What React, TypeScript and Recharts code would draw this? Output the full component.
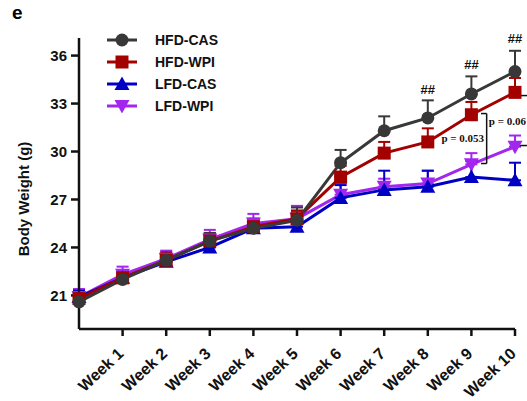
import React from 'react';
import {
  LineChart, Line, XAxis, YAxis, ErrorBar, Legend, ReferenceDot, ReferenceLine, Label,
} from 'recharts';

// ---- data ----
const weeks = [0, 1, 2, 3, 4, 5, 6, 7, 8, 9, 10];
const weekTicks = [1, 2, 3, 4, 5, 6, 7, 8, 9, 10];
const yTicks = [21, 24, 27, 30, 33, 36];

const hfdCas = [20.6, 22.0, 23.2, 24.4, 25.2, 25.7, 29.3, 31.3, 32.1, 33.6, 35.0];
const hfdCasErr = [0.3, 0.3, 0.4, 0.5, 0.5, 0.8, 0.8, 0.9, 1.1, 1.1, 1.3];
const hfdWpi = [20.8, 22.1, 23.2, 24.4, 25.3, 25.8, 28.4, 29.9, 30.6, 32.3, 33.7];
const hfdWpiErr = [0.3, 0.4, 0.5, 0.5, 0.5, 0.5, 0.7, 0.7, 0.85, 0.8, 0.9];
const lfdCas = [20.9, 22.1, 23.1, 24.0, 25.2, 25.3, 27.1, 27.6, 27.8, 28.4, 28.2];
const lfdCasErr = [0.4, 0.4, 0.5, 0.5, 0.5, 1.0, 0.8, 1.2, 1.0, 1.0, 1.1];
const lfdWpi = [20.9, 22.3, 23.3, 24.5, 25.5, 25.8, 27.3, 27.8, 28.0, 29.2, 30.3];
const lfdWpiErr = [0.5, 0.5, 0.5, 0.6, 0.6, 0.8, 0.7, 0.5, 0.8, 0.7, 0.7];

const sigMarks = [
  { week: 8, y: 33.9, text: '##' },
  { week: 9, y: 35.45, text: '##' },
  { week: 10, y: 37.05, text: '##' },
];

const pTexts = [
  { week: 9.29, y: 30.875, text: 'p = 0.053', anchor: 'end' },
  { week: 9.4, y: 31.94, text: 'p = 0.06', anchor: 'start' },
];

const brackets = [
  { x0: 9.22, x1: 9.35, yTop: 32.375, yBottom: 29.25 },
  { x0: 10.1, x1: 10.35, yTop: 33.5, yBottom: 30.375 },
];

const data = weeks.map((w, i) => ({
  week: w,
  hfdCas: hfdCas[i], hfdCasErr: hfdCasErr[i],
  hfdWpi: hfdWpi[i], hfdWpiErr: hfdWpiErr[i],
  lfdCas: lfdCas[i], lfdCasErr: lfdCasErr[i],
  lfdWpi: lfdWpi[i], lfdWpiErr: lfdWpiErr[i],
}));

type Shape = 'circle' | 'square' | 'up' | 'down';
const series: { key: string; name: string; color: string; shape: Shape }[] = [
  { key: 'hfdCas', name: 'HFD-CAS', color: '#383838', shape: 'circle' },
  { key: 'hfdWpi', name: 'HFD-WPI', color: '#a30000', shape: 'square' },
  { key: 'lfdCas', name: 'LFD-CAS', color: '#0000c4', shape: 'up' },
  { key: 'lfdWpi', name: 'LFD-WPI', color: '#a326ee', shape: 'down' },
];

const FONT = '"Liberation Sans", Arial, sans-serif';

function marker(shape: Shape, cx: number, cy: number, color: string, key?: any) {
  if (cx == null || cy == null) return <g key={key} />;
  if (shape === 'circle') return <circle key={key} cx={cx} cy={cy} r={6.5} fill={color} />;
  if (shape === 'square') return <rect key={key} x={cx - 6.5} y={cy - 6.5} width={13} height={13} fill={color} />;
  if (shape === 'up')
    return <polygon key={key} points={`${cx},${cy - 7.5} ${cx - 7.5},${cy + 6} ${cx + 7.5},${cy + 6}`} fill={color} />;
  return <polygon key={key} points={`${cx},${cy + 7.5} ${cx - 7.5},${cy - 6} ${cx + 7.5},${cy - 6}`} fill={color} />;
}

const XTick = (props: any) => {
  const { x, y, payload } = props;
  return (
    <g transform={`translate(${x + 2},${y + 17})`}>
      <text x={0} y={0} textAnchor="end" transform="rotate(-43)"
        fontFamily={FONT} fontWeight="bold" fontSize={16} fill="#111">
        {`Week ${payload.value}`}
      </text>
    </g>
  );
};

const LegendContent = () => (
  <div style={{ fontFamily: FONT, fontWeight: 'bold', fontSize: 14, color: '#111' }}>
    {series.map((s) => (
      <div key={s.key} style={{ display: 'flex', alignItems: 'center', height: 22 }}>
        <svg width={34} height={20} style={{ display: 'block' }}>
          <line x1={0} y1={10} x2={30} y2={10} stroke={s.color} strokeWidth={3} />
          {marker(s.shape, 15, 10, s.color)}
        </svg>
        <span style={{ marginLeft: 14 }}>{s.name}</span>
      </div>
    ))}
  </div>
);

const drawOrder = ['lfdWpi', 'lfdCas', 'hfdWpi', 'hfdCas'];

export default function App() {
  return (
    <div style={{ position: 'absolute', left: 0, top: 0, width: 527, height: 401, background: '#fff' }}>
      <div style={{ position: 'absolute', left: 12, top: 2, fontFamily: FONT, fontWeight: 'bold', fontSize: 19 }}>e</div>
      <LineChart width={527} height={401} data={data} margin={{ top: 38, right: 12, bottom: 0, left: 20 }}>
        <XAxis
          dataKey="week" type="number" domain={[0, 10]} ticks={weekTicks} interval={0}
          height={72} tick={<XTick />} tickSize={7}
          axisLine={{ stroke: '#111', strokeWidth: 2.5 }} tickLine={{ stroke: '#111', strokeWidth: 2.5 }}
        />
        <YAxis
          type="number" domain={[18.9, 37.1]} ticks={yTicks} interval={0} width={59} tickSize={8} tickMargin={4}
          allowDataOverflow
          tick={{ fontFamily: FONT, fontWeight: 'bold', fontSize: 15, fill: '#111' }}
          axisLine={{ stroke: '#111', strokeWidth: 2.5 }} tickLine={{ stroke: '#111', strokeWidth: 2.5 }}
        >
          <Label
            content={() => (
              <text x={23} y={199} transform="rotate(-90 23 199)" textAnchor="middle" dominantBaseline="central"
                fontFamily={FONT} fontWeight="bold" fontSize={15} fill="#111">
                Body Weight (g)
              </text>
            )}
          />
        </YAxis>
        <Legend
          layout="horizontal" verticalAlign="middle" align="center"
          wrapperStyle={{ left: 107, top: 29, width: 160, height: 90 }}
          content={<LegendContent />}
        />
        {drawOrder.map((k) => {
          const s = series.find((q) => q.key === k)!;
          return (
            <Line
              key={s.key} dataKey={s.key} name={s.name} stroke={s.color} strokeWidth={3}
              isAnimationActive={false} legendType="none"
              dot={(p: any) => marker(s.shape, p.cx, p.cy, s.color, `${s.key}-${p.index}`)}
              activeDot={false}
            >
              <ErrorBar dataKey={(d: any) => [0, d[`${s.key}Err`]]} direction="y" width={6}
                stroke={s.color} strokeWidth={2} isAnimationActive={false} />
            </Line>
          );
        })}
        {brackets.map((b, i) => (
          <ReferenceLine key={`bv${i}`} segment={[{ x: b.x1, y: b.yTop }, { x: b.x1, y: b.yBottom }]}
            stroke="#111" strokeWidth={1.5} ifOverflow="visible" />
        ))}
        {brackets.map((b, i) => (
          <ReferenceLine key={`bt${i}`} segment={[{ x: b.x0, y: b.yTop }, { x: b.x1, y: b.yTop }]}
            stroke="#111" strokeWidth={1.5} ifOverflow="visible" />
        ))}
        {brackets.map((b, i) => (
          <ReferenceLine key={`bb${i}`} segment={[{ x: b.x0, y: b.yBottom }, { x: b.x1, y: b.yBottom }]}
            stroke="#111" strokeWidth={1.5} ifOverflow="visible" />
        ))}
        {sigMarks.map((m, i) => (
          <ReferenceDot key={`s${i}`} x={m.week} y={m.y} r={0} ifOverflow="visible"
            shape={(p: any) => (
              <text x={p.cx} y={p.cy} textAnchor="middle" dominantBaseline="central"
                fontFamily={FONT} fontWeight="bold" fontSize={13} fill="#111">{m.text}</text>
            )}
          />
        ))}
        {pTexts.map((m, i) => (
          <ReferenceDot key={`p${i}`} x={m.week} y={m.y} r={0} ifOverflow="visible"
            shape={(p: any) => (
              <text x={p.cx} y={p.cy} textAnchor={m.anchor} dominantBaseline="central"
                fontFamily='"Liberation Serif", "Times New Roman", serif' fontWeight="bold" fontSize={11} fill="#111">{m.text}</text>
            )}
          />
        ))}
      </LineChart>
    </div>
  );
}
